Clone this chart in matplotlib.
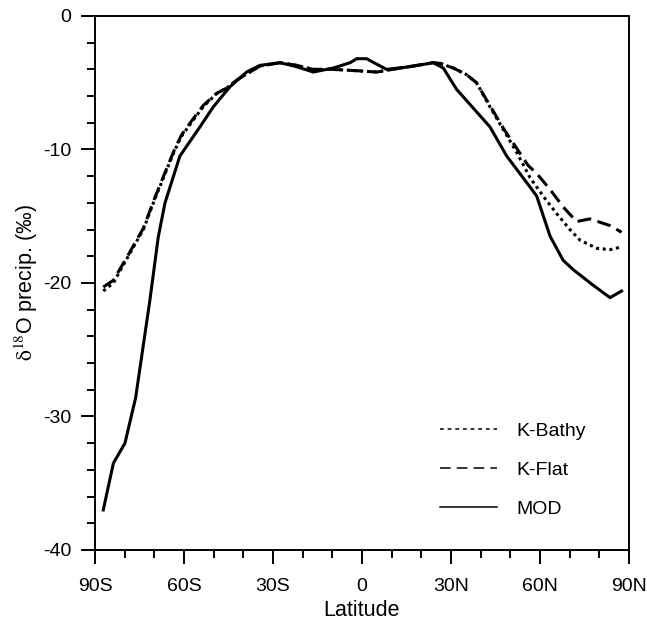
import matplotlib
matplotlib.use("Agg")
import matplotlib.pyplot as plt
from matplotlib.lines import Line2D
from matplotlib.ticker import MultipleLocator, FixedLocator

plt.rcParams['font.family'] = ['Liberation Sans', 'DejaVu Sans']
plt.rcParams['mathtext.fontset'] = 'stix'
plt.rcParams['axes.unicode_minus'] = False

# MOD (solid)
mod_lat = [-87.2, -83.8, -79.9, -76.3, -71.5, -68.7, -66.4, -61.4, -54.6, -50.1,
           -44.5, -38.9, -34.4, -27.6, -22.0, -16.4, -9.7, -4.0, -1.8, 1.6,
           4.0, 8.3, 16.2, 24.0, 27.4, 31.9, 37.5, 43.1, 48.8, 56.6,
           58.9, 63.4, 67.8, 71.2, 77.5, 83.6, 87.5]
mod_val = [-37.0, -33.5, -32.0, -28.6, -21.3, -16.6, -14.0, -10.5, -8.3, -6.8,
           -5.3, -4.2, -3.7, -3.5, -3.8, -4.2, -3.9, -3.5, -3.2, -3.2,
           -3.5, -4.0, -3.8, -3.5, -3.9, -5.5, -6.9, -8.3, -10.5, -12.8,
           -13.5, -16.5, -18.3, -19.0, -20.1, -21.1, -20.6]

# K-Bathy (dotted)
bathy_lat = [-87.2, -83.8, -78.8, -73.7, -69.8, -65.8, -63.0, -60.8, -56.9, -53.5,
             -49.0, -45.6, -42.2, -37.8, -34.4, -27.6, -22.0, -16.5, -9.7, -1.8,
             5.0, 12.8, 24.0, 26.3, 30.8, 35.3, 38.6, 43.1, 47.6, 52.1,
             56.6, 61.1, 65.6, 70.1, 73.5, 79.1, 83.6, 87.5]
bathy_val = [-20.6, -20.0, -18.0, -16.0, -13.7, -11.5, -10.0, -9.0, -7.8, -6.8,
             -5.8, -5.4, -4.8, -4.2, -3.75, -3.5, -3.7, -4.0, -4.0, -4.1,
             -4.2, -3.9, -3.5, -3.55, -3.9, -4.4, -5.0, -6.8, -8.5, -10.2,
             -12.1, -13.5, -14.8, -16.0, -16.8, -17.4, -17.5, -17.3]

# K-Flat (dashed)
flat_lat = [-87.2, -83.8, -78.8, -73.7, -69.8, -65.8, -63.0, -60.8, -56.9, -53.5,
            -49.0, -45.6, -42.2, -37.8, -34.4, -27.6, -22.0, -16.5, -9.7, -1.8,
            5.0, 12.8, 24.0, 26.3, 30.8, 35.3, 38.6, 43.1, 47.6, 52.1,
            56.0, 58.9, 63.4, 67.8, 72.3, 76.8, 83.6, 87.5]
flat_val = [-20.3, -19.8, -17.9, -15.9, -13.6, -11.4, -9.9, -8.9, -7.7, -6.7,
            -5.8, -5.4, -4.8, -4.2, -3.75, -3.5, -3.7, -4.0, -4.0, -4.1,
            -4.2, -3.9, -3.5, -3.55, -3.9, -4.4, -5.0, -6.7, -8.4, -9.9,
            -11.2, -11.8, -13.0, -14.3, -15.4, -15.2, -15.7, -16.2]

xtick_pos = [-90, -60, -30, 0, 30, 60, 90]
xtick_lab = ["90S", "60S", "30S", "0", "30N", "60N", "90N"]


def main():
    fig = plt.figure(figsize=(6.47, 6.24), dpi=100)
    ax = fig.add_axes([0.1468, 0.1186, 0.8254, 0.8558])

    ax.plot(bathy_lat, bathy_val, color="black", lw=2.2, linestyle=(0, (1.0, 1.2)))
    ax.plot(flat_lat, flat_val, color="black", lw=2.2, linestyle=(0, (4.5, 2.2)))
    ax.plot(mod_lat, mod_val, color="black", lw=2.2, linestyle="-")

    ax.set_xlim(-90, 90)
    ax.set_ylim(-40, 0)
    ax.xaxis.set_major_locator(FixedLocator(xtick_pos))
    ax.set_xticklabels(xtick_lab)
    ax.xaxis.set_minor_locator(MultipleLocator(10))
    ax.yaxis.set_major_locator(MultipleLocator(10))
    ax.yaxis.set_minor_locator(MultipleLocator(2))

    ax.tick_params(which="both", direction="out", top=False, right=False,
                   width=1.4, labelsize=14)
    ax.tick_params(which="major", length=10)
    ax.tick_params(axis="x", which="major", pad=10)
    ax.tick_params(axis="y", which="major", pad=7)
    ax.tick_params(which="minor", length=5.5)
    for s in ax.spines.values():
        s.set_linewidth(1.4)

    ax.set_xlabel("Latitude", fontsize=15.5, labelpad=4)
    ax.set_ylabel(r"$\mathrm{\delta}^{18}$O precip. (‰)", fontsize=15.5, labelpad=2)

    handles = [
        Line2D([], [], color="black", lw=1.1, linestyle=(0, (2.5, 2.5))),
        Line2D([], [], color="black", lw=1.1, linestyle=(0, (7, 4))),
        Line2D([], [], color="black", lw=1.1, linestyle="-"),
    ]
    ax.legend(handles, ["K-Bathy", "K-Flat", "MOD"], loc="lower left",
              bbox_to_anchor=(0.632, 0.045), frameon=False, fontsize=14,
              handlelength=2.9, handletextpad=1.0, labelspacing=1.1,
              borderaxespad=0)

    fig.savefig("out.png", dpi=100)


if __name__ == "__main__":
    main()
